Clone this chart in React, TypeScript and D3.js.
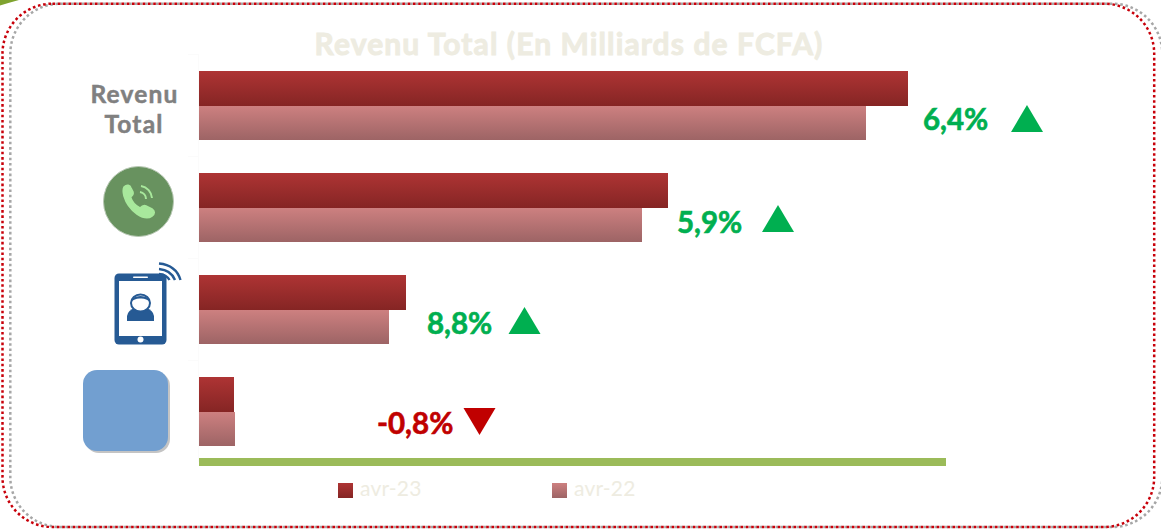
import React from "react";
import * as d3 from "d3";

const categories = ["Revenu Total", "Voix", "Data", "Autres"];
const seriesNames = ["avr-23", "avr-22"];
const values2023 = [709, 469, 207, 35];
const values2022 = [667, 443, 190, 36];
const growthLabels = ["6,4%", "5,9%", "8,8%", "-0,8%"];
const growthUp = [true, true, true, false];
const title = "Revenu Total (En Milliards de FCFA)";

const W = 1161, H = 529;
const FONT = "Lato, 'Open Sans', sans-serif";
const GREEN = "#00AF50", RED = "#C00000", CREAM = "#EEECE1";

const x = d3.scaleLinear().domain([0, 747]).range([199, 946]);
const y = d3.scaleBand().domain(categories).range([54.5, 462.5]);
const inner = d3.scaleBand().domain(seriesNames).range([16.5, 85.5]);

const labelPos = [
  { tx: 923, ty: 130, ax: 1027, ay: 132 },
  { tx: 677, ty: 233, ax: 778, ay: 232 },
  { tx: 427, ty: 334, ax: 524.5, ay: 334 },
  { tx: 377, ty: 434, ax: 479.5, ay: 408 },
];

function Triangle({ cx, y0, up, fill }: { cx: number; y0: number; up: boolean; fill: string }) {
  const w = 16, h = 27;
  const d = up
    ? `M${cx - w},${y0}L${cx + w},${y0}L${cx},${y0 - h}Z`
    : `M${cx - w},${y0}L${cx + w},${y0}L${cx},${y0 + h}Z`;
  return <path d={d} fill={fill} />;
}

export default function App() {
  return (
    <svg width={W} height={H} style={{ position: "absolute", left: 0, top: 0, background: "#fff" }} fontFamily={FONT}>
      <defs>
        <linearGradient id="g23" x1="0" y1="0" x2="0" y2="1">
          <stop offset="0" stopColor="#AE3434" />
          <stop offset="1" stopColor="#852524" />
        </linearGradient>
        <linearGradient id="g22" x1="0" y1="0" x2="0" y2="1">
          <stop offset="0" stopColor="#CD8080" />
          <stop offset="1" stopColor="#9D6465" />
        </linearGradient>
      </defs>

      <path d="M0,0L19,0Q8,3 0,5.5Z" fill="#7FA32F" />

      <rect x={10.3} y={3.7} width={1152} height={523.3} rx={50} fill="none" stroke="#A6A6A6" strokeWidth={2.5} strokeDasharray="2.6 2.7" />
      <rect x={2.5} y={3.7} width={1151.7} height={523.3} rx={50} fill="none" stroke="#C8000A" strokeWidth={2.5} strokeDasharray="2.6 2.7" />

      <text x={569} y={55} textAnchor="middle" fontSize={30} fontWeight={700} fill={CREAM} stroke={CREAM} strokeWidth={0.9} letterSpacing={1.1}>{title}</text>

      <line x1={198.5} x2={198.5} y1={54} y2={462} stroke="#FBFBFB" />
      {categories.map((c, i) => (
        <line key={c} x1={188} x2={199} y1={54.5 + i * y.step()} y2={54.5 + i * y.step()} stroke="#FBFBFB" />
      ))}

      {categories.map((c, i) => (
        <g key={c}>
          <rect x={x(0)} y={y(c)! + inner("avr-22")! + 0.5} width={x(values2022[i]) - x(0)} height={inner.bandwidth() - 0.5} fill="url(#g22)" />
          <rect x={x(0)} y={y(c)! + inner("avr-23")!} width={x(values2023[i]) - x(0)} height={inner.bandwidth() + 0.5} fill="url(#g23)" />
        </g>
      ))}

      <rect x={199} y={458} width={747} height={8} fill="#9BBB59" />

      {categories.map((c, i) => {
        const p = labelPos[i];
        const col = growthUp[i] ? GREEN : RED;
        return (
          <g key={c}>
            <text x={p.tx} y={p.ty} fontSize={29.5} fontWeight={700} fill={col} stroke={col} strokeWidth={0.6}>{growthLabels[i]}</text>
            <Triangle cx={p.ax} y0={p.ay} up={growthUp[i]} fill={col} />
          </g>
        );
      })}

      <text textAnchor="middle" fontSize={24.5} fontWeight={700} fill="#808080" stroke="#808080" strokeWidth={0.5} letterSpacing={1.2}>
        <tspan x={134.5} y={103}>Revenu</tspan>
        <tspan x={134} y={133}>Total</tspan>
      </text>

      {/* Voice icon */}
      <circle cx={138.5} cy={201.5} r={35} fill="#68925F" stroke="#B8C8B4" strokeWidth={1} />
      <path d="M124,187 C127,184 130,185 131,188 L133,192 C133.5,194 132,196 130.5,197 C132,202 136,206 140,208 C142,206 144,205 146,206 L152,209 C155,211 155,214 152,216 C148,219 143,218 137,214 C130,209 126,203 124,196 C123,192 123,189 124,187Z" fill="#A8E89C" stroke="#A8E89C" strokeWidth={1.6} />
      <path d="M140,192 A7,7 0 0 1 146,199 M141,186 A13,13 0 0 1 152,198" fill="none" stroke="#A8E89C" strokeWidth={2} />

      {/* Data icon */}
      <rect x={114.5} y={273.5} width={52} height={71} rx={4.5} fill="#265A94" />
      <rect x={119} y={281} width={43} height={55} fill="#fff" />
      <rect x={133} y={276.5} width={15} height={1.5} fill="#fff" rx={0.7} />
      <circle cx={140.5} cy={339.5} r={3} fill="#fff" />
      <path d="M127,321 L127,316 Q128,310 135,308 L146,308 Q153,310 154,316 L154,321Z" fill="#265A94" />
      <ellipse cx={140.5} cy={303} rx={9.5} ry={8.5} fill="#fff" stroke="#265A94" strokeWidth={2} />
      <path d="M131,302 Q132,296 140.5,296 Q149,296 150,302 Q146,298 140.5,298.5 Q135,298 131,302Z" fill="#265A94" />
      <path d="M159,263.5 Q176,265 180.5,280 M159,269 Q171,270 175,280 M159,274 Q167,275 169.500,280" fill="none" stroke="#265A94" strokeWidth={2.4} />

      {/* Other icon */}
      <rect x={85} y={372} width={85} height={81} rx={14} fill="#C4C4C4" />
      <rect x={83} y={370} width={85} height={81} rx={14} fill="#729FD0" />

      {seriesNames.map((s, i) => {
        const lx = [338, 552][i];
        return (
          <g key={s}>
            <rect x={lx} y={483} width={15} height={15} fill={i === 0 ? "url(#g23)" : "url(#g22)"} />
            <text x={lx + 22} y={496} fontSize={21} letterSpacing={0.2} fill={CREAM}>{s}</text>
          </g>
        );
      })}
    </svg>
  );
}
